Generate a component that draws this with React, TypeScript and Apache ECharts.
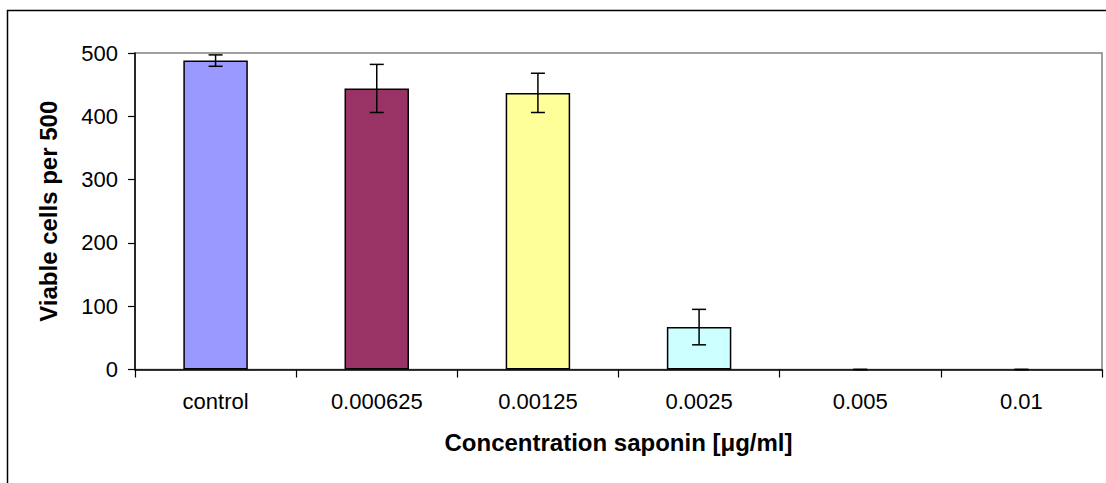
import React, { useEffect, useRef } from "react";
import * as echarts from "echarts";

const categories = ["control", "0.000625", "0.00125", "0.0025", "0.005", "0.01"];
const viableCells = [488, 444, 437, 67, 0, 0];
const errors = [9, 38, 31, 28, 0, 0];
const barColors = ["#9999FF", "#993366", "#FFFF99", "#CCFFFF", "#CCFFFF", "#CCFFFF"];
const yTicks = [0, 100, 200, 300, 400, 500];

const FONT = "Liberation Sans, Arial, sans-serif";

export default function App() {
  const ref = useRef<HTMLDivElement>(null);
  useEffect(() => {
    if (!ref.current) return;
    const chart = echarts.init(ref.current, undefined, { renderer: "svg" });
    const errData = categories.map((_, i) => [i, viableCells[i] - errors[i], viableCells[i] + errors[i]]);
    chart.setOption({
      animation: false,
      backgroundColor: "#ffffff",
      textStyle: { fontFamily: FONT },
      graphic: [
        {
          type: "rect",
          shape: { x: 7.5, y: 10.5, width: 1200, height: 600 },
          style: { fill: "none", stroke: "#000000", lineWidth: 1.5 },
          silent: true,
        },
      ],
      grid: {
        left: 135,
        top: 53,
        right: 4,
        bottom: 113.5,
        show: true,
        borderColor: "#808080",
        borderWidth: 1.5,
        backgroundColor: "#ffffff",
      },
      xAxis: {
        type: "category",
        data: categories,
        boundaryGap: true,
        axisLine: { show: true, lineStyle: { color: "#000000", width: 1.5 } },
        axisTick: { show: true, length: 8, lineStyle: { color: "#000000", width: 1.2 } },
        axisLabel: { color: "#000000", fontSize: 22, margin: 21, fontFamily: FONT },
        name: "Concentration saponin [μg/ml]",
        nameLocation: "middle",
        nameGap: 61,
        nameTextStyle: { color: "#000000", fontSize: 24, fontWeight: "bold", fontFamily: FONT },
      },
      yAxis: {
        type: "value",
        min: yTicks[0],
        max: yTicks[yTicks.length - 1],
        interval: 100,
        axisLine: { show: true, lineStyle: { color: "#000000", width: 1.5 } },
        axisTick: { show: true, length: 7, lineStyle: { color: "#000000", width: 1.2 } },
        splitLine: { show: false },
        axisLabel: { color: "#000000", fontSize: 22, margin: 17, fontFamily: FONT },
        name: "Viable cells per 500",
        nameLocation: "middle",
        nameGap: 75,
        nameTextStyle: { color: "#000000", fontSize: 24, fontWeight: "bold", fontFamily: FONT },
      },
      series: [
        {
          type: "bar",
          barWidth: "40%",
          data: viableCells.map((v, i) => ({
            value: v,
            itemStyle: {
              color: barColors[i],
              borderColor: "#000000",
              borderWidth: v > 0 ? 1.5 : 0,
              opacity: v > 0 ? 1 : 0,
            },
          })),
        },
        {
          type: "custom",
          z: 10,
          data: errData,
          renderItem: (params: any, api: any) => {
            const x = api.value(0);
            const lo = api.value(1);
            const hi = api.value(2);
            const top = api.coord([x, hi]);
            const bot = api.coord([x, lo]);
            const w = 7;
            const style = { stroke: "#000000", lineWidth: 1.5 };
            return {
              type: "group",
              children: [
                { type: "line", shape: { x1: top[0], y1: top[1], x2: bot[0], y2: bot[1] }, style },
                { type: "line", shape: { x1: top[0] - w, y1: top[1], x2: top[0] + w, y2: top[1] }, style },
                { type: "line", shape: { x1: bot[0] - w, y1: bot[1], x2: bot[0] + w, y2: bot[1] }, style },
              ],
            };
          },
        },
      ],
    });
    return () => chart.dispose();
  }, []);
  return (
    <div
      ref={ref}
      style={{ position: "absolute", left: 0, top: 0, width: 1106, height: 483 }}
    />
  );
}
